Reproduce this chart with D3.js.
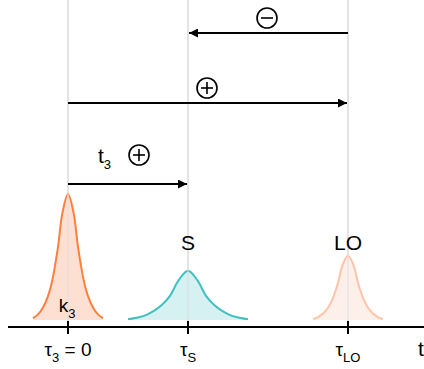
<!DOCTYPE html>
<html>
<head>
<meta charset="utf-8">
<script src="https://cdn.jsdelivr.net/npm/d3@7"></script>
<style>
  body { margin: 0; background: #fff; }
  svg { display: block; font-family: "Liberation Sans", Arial, sans-serif; }
</style>
</head>
<body>
<div id="chart"></div>
<script>
// time positions (arbitrary units) of the three events
var events = ["k3", "S", "LO"];
var eventTimes = [0, 3, 7];

// peak heights relative to the k3 peak
var peakHeights = [1, 0.39, 0.51];
var peakColors = ["#ff7f3f", "#40c0c0", "#ffc3a6"];
var peakFills = ["#fde0d1", "#d6f1f1", "#fdf0ea"];
var peakLabels = ["k", "S", "LO"];

// line shapes: offset from centre -> relative height
var narrowOffsets = [0, 0.14, 0.25, 0.39, 0.5, 0.625, 0.75, 0.875];
var narrowValues  = [1, 0.85, 0.58, 0.32, 0.19, 0.10, 0.045, 0.015];
var broadOffsets  = [0, 0.225, 0.46, 0.65, 0.825, 1.0, 1.2, 1.5];
var broadValues   = [1, 0.82, 0.48, 0.31, 0.20, 0.12, 0.06, 0.015];

// arrows: [from, to] in event times, with sign label
var arrowFrom = [7, 0, 0];
var arrowTo = [3, 7, 3];
var arrowSigns = ["−", "+", "+"];

var width = 424, height = 369;

var svg = d3.select("#chart")
    .append("svg")
    .attr("width", width)
    .attr("height", height);

var x = d3.scaleLinear().domain([0, 7]).range([68, 348]);
var y = d3.scaleLinear().domain([0, 1]).range([320, 194]);
var axisY = 327;

// vertical guide lines
svg.append("g")
    .selectAll("line")
    .data(eventTimes)
    .enter()
    .append("line")
    .attr("x1", function(d) { return x(d); })
    .attr("x2", function(d) { return x(d); })
    .attr("y1", 0)
    .attr("y2", axisY)
    .attr("stroke", "#ebebeb")
    .attr("stroke-width", 2);

// peaks
function profile(i) {
    var offs = i === 1 ? broadOffsets : narrowOffsets;
    var vals = i === 1 ? broadValues : narrowValues;
    var pts = [];
    for (var k = offs.length - 1; k > 0; k--) pts.push([-offs[k], vals[k]]);
    for (var k = 0; k < offs.length; k++) pts.push([offs[k], vals[k]]);
    return pts.map(function(p) { return [eventTimes[i] + p[0], p[1] * peakHeights[i]]; });
}

var area = d3.area()
    .x(function(d) { return x(d[0]); })
    .y0(y(0))
    .y1(function(d) { return y(d[1]); })
    .curve(d3.curveCatmullRom);

var line = d3.line()
    .x(function(d) { return x(d[0]); })
    .y(function(d) { return y(d[1]); })
    .curve(d3.curveCatmullRom);

var peaks = svg.append("g")
    .selectAll("g")
    .data(events)
    .enter()
    .append("g");

peaks.append("path")
    .attr("d", function(d, i) { return area(profile(i)); })
    .attr("fill", function(d, i) { return peakFills[i]; });

peaks.append("path")
    .attr("d", function(d, i) { return line(profile(i)); })
    .attr("fill", "none")
    .attr("stroke", function(d, i) { return peakColors[i]; })
    .attr("stroke-width", 2);

// guide line shows through the fill
svg.append("g")
    .selectAll("line")
    .data(eventTimes)
    .enter()
    .append("line")
    .attr("x1", function(d) { return x(d); })
    .attr("x2", function(d) { return x(d); })
    .attr("y1", 0)
    .attr("y2", axisY)
    .attr("stroke", "#dddddd")
    .attr("stroke-opacity", 0.5)
    .attr("stroke-width", 2);

// peak labels
var k3 = svg.append("text")
    .attr("x", x(0) - 1)
    .attr("y", 312)
    .attr("text-anchor", "middle")
    .style("font-size", "19px");
k3.append("tspan").text(peakLabels[0]);
k3.append("tspan").text("3").attr("dy", 6).style("font-size", "13px");

svg.append("text")
    .attr("x", x(3))
    .attr("y", 250)
    .attr("text-anchor", "middle")
    .style("font-size", "21px")
    .text(peakLabels[1]);

svg.append("text")
    .attr("x", x(7))
    .attr("y", 250)
    .attr("text-anchor", "middle")
    .style("font-size", "21px")
    .text(peakLabels[2]);

// time axis
svg.append("line")
    .attr("x1", 8).attr("x2", width)
    .attr("y1", axisY).attr("y2", axisY)
    .attr("stroke", "#000")
    .attr("stroke-width", 2);

svg.append("g")
    .selectAll("line")
    .data(eventTimes)
    .enter()
    .append("line")
    .attr("x1", function(d) { return x(d); })
    .attr("x2", function(d) { return x(d); })
    .attr("y1", axisY - 6)
    .attr("y2", axisY + 7)
    .attr("stroke", "#000")
    .attr("stroke-width", 2);

var tickSubs = ["3", "S", "LO"];
var tickTail = [" = 0", "", ""];
var ticks = svg.append("g")
    .selectAll("text")
    .data(eventTimes)
    .enter()
    .append("text")
    .attr("x", function(d) { return x(d); })
    .attr("y", 356)
    .attr("text-anchor", "middle")
    .style("font-size", "19px");
ticks.append("tspan").text("τ");
ticks.append("tspan").text(function(d, i) { return tickSubs[i]; })
    .attr("dy", 6).style("font-size", "13px");
ticks.append("tspan").text(function(d, i) { return tickTail[i]; })
    .attr("dy", -6);

svg.append("text")
    .attr("x", 418)
    .attr("y", 356)
    .style("font-size", "21px")
    .text("t");

// arrows
var defs = svg.append("defs");
defs.append("marker")
    .attr("id", "head")
    .attr("viewBox", "0 0 10 10")
    .attr("refX", 10).attr("refY", 5)
    .attr("markerWidth", 10).attr("markerHeight", 9)
    .attr("markerUnits", "userSpaceOnUse")
    .attr("orient", "auto")
    .append("path")
    .attr("d", "M0,0L10,5L0,10Z")
    .attr("fill", "#000");

var arrowY = [33, 103, 184];
var signX = [267, 207, 139];
var signY = [18, 88, 155];

svg.append("g")
    .selectAll("line")
    .data(arrowFrom)
    .enter()
    .append("line")
    .attr("x1", function(d) { return x(d); })
    .attr("x2", function(d, i) { return x(arrowTo[i]) + (arrowTo[i] < d ? 1 : -1); })
    .attr("y1", function(d, i) { return arrowY[i]; })
    .attr("y2", function(d, i) { return arrowY[i]; })
    .attr("stroke", "#000")
    .attr("stroke-width", 2)
    .attr("marker-end", "url(#head)");

var signs = svg.append("g")
    .selectAll("g")
    .data(arrowSigns)
    .enter()
    .append("g")
    .attr("transform", function(d, i) { return "translate(" + signX[i] + "," + signY[i] + ")"; });

signs.append("circle")
    .attr("r", 10)
    .attr("fill", "none")
    .attr("stroke", "#000")
    .attr("stroke-width", 1.6);

signs.append("line")
    .attr("x1", -6).attr("x2", 6)
    .attr("stroke", "#000").attr("stroke-width", 1.6);

signs.filter(function(d) { return d === "+"; })
    .append("line")
    .attr("y1", -6).attr("y2", 6)
    .attr("stroke", "#000").attr("stroke-width", 1.6);

var t3 = svg.append("text")
    .attr("x", 98)
    .attr("y", 163)
    .style("font-size", "21px");
t3.append("tspan").text("t");
t3.append("tspan").text("3").attr("dy", 6).style("font-size", "13px");
</script>
</body>
</html>
